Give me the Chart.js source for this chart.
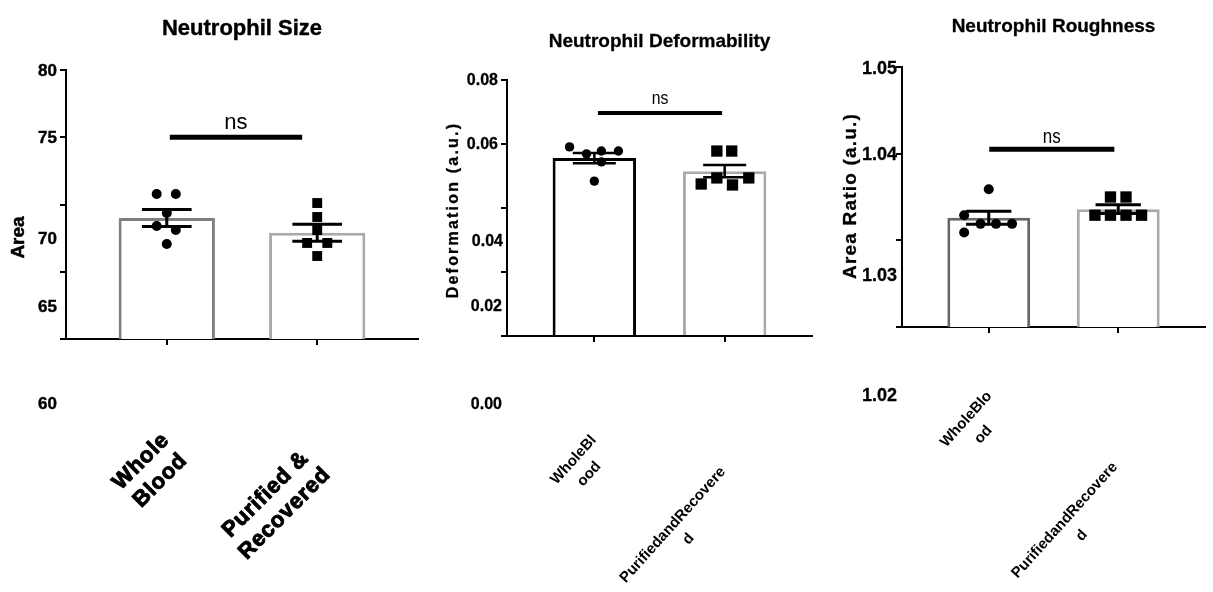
<!DOCTYPE html>
<html><head><meta charset="utf-8">
<script src="https://cdn.jsdelivr.net/npm/chart.js@4.4.0/dist/chart.umd.min.js"></script>
<style>
html,body{margin:0;padding:0;background:#fff;width:1213px;height:592px;overflow:hidden}
canvas{position:absolute;top:0}
</style></head><body>
<canvas id="c1" width="430" height="592" style="left:0px"></canvas>
<canvas id="c2" width="390" height="592" style="left:430px"></canvas>
<canvas id="c3" width="393" height="592" style="left:820px"></canvas>
<script>
// ---------- DATA ----------
// Panel 1: Neutrophil Size
const sizeTitle = 'Neutrophil Size';
const sizeYTitle = 'Area';
const sizeTickLabels = ['80', '75', '70', '65', '60'];
const sizeXLabels = [['Whole', 'Blood'], ['Purified &', 'Recovered']];
const sizeMeans = [69.0, 67.9];
const sizeSEM = [0.63, 0.63];
const sizeWholeBlood = [70.78, 70.78, 69.37, 68.40, 68.10, 67.06];
const sizeWholeBloodJitter = [-0.067, 0.06, 0, -0.067, 0.06, 0];
const sizePurified = [70.11, 69.07, 68.10, 67.14, 67.14, 66.17];
const sizePurifiedJitter = [0, 0, 0, -0.067, 0.067, 0];
const sizeSigValue = 75.0;
const sizeSigText = 'ns';

// Panel 2: Neutrophil Deformability
const defTitle = 'Neutrophil Deformability';
const defYTitle = 'Deformation (a.u.)';
const defTickLabels = ['0.08', '0.06', '0.04', '0.02', '0.00'];
const defXLabels = [['WholeBl', 'ood'], ['PurifiedandRecovere', 'd']];
const defMeans = [0.0556, 0.0515];
const defSEM = [0.0016, 0.0019];
const defWholeBlood = [0.0591, 0.0569, 0.0578, 0.0578, 0.0544, 0.0484];
const defWholeBloodJitter = [-0.19, -0.06, 0.054, 0.185, 0.054, 0];
const defPurified = [0.0578, 0.0578, 0.0475, 0.0494, 0.0472, 0.0494];
const defPurifiedJitter = [-0.06, 0.054, -0.18, -0.06, 0.06, 0.185];
const defSigValue = 0.0697;
const defSigText = 'ns';

// Panel 3: Neutrophil Roughness
const rouTitle = 'Neutrophil Roughness';
const rouYTitle = 'Area Ratio (a.u.)';
const rouTickLabels = ['1.05', '1.04', '1.03', '1.02'];
const rouXLabels = [['WholeBlo', 'od'], ['PurifiedandRecovere', 'd']];
const rouMeans = [1.0326, 1.0336];
const rouSEM = [0.00075, 0.0005];
const rouWholeBlood = [1.0359, 1.0329, 1.0319, 1.0319, 1.0319, 1.0309];
const rouWholeBloodJitter = [0, -0.19, -0.064, 0.056, 0.18, -0.19];
const rouPurified = [1.0350, 1.0350, 1.0329, 1.0329, 1.0329, 1.0329];
const rouPurifiedJitter = [-0.06, 0.06, -0.18, -0.06, 0.06, 0.18];
const rouSigValue = 1.0405;
const rouSigText = 'ns';

// ---------- HELPERS ----------
const SANS = "'Liberation Sans', Arial, Helvetica, sans-serif";

function txt(ctx, s, x, y, o) {
  ctx.save();
  ctx.translate(x, y);
  if (o.rot) ctx.rotate(o.rot);
  if (o.sx) ctx.scale(o.sx, 1);
  ctx.font = o.font;
  ctx.fillStyle = '#000';
  ctx.textAlign = o.align || 'center';
  ctx.textBaseline = o.base || 'middle';
  if ('letterSpacing' in ctx) ctx.letterSpacing = (o.ls || 0) + 'px';
  ctx.fillText(s, 0, 0);
  if (o.heavy) {
    ctx.strokeStyle = '#000';
    ctx.lineWidth = o.heavy;
    ctx.lineJoin = 'round';
    ctx.strokeText(s, 0, 0);
  }
  ctx.restore();
}

function pts(vals, jitter, idx) {
  return vals.map((v, i) => ({ x: idx + jitter[i], y: v }));
}

function makePanel(id, p) {
  const decor = {
    id: 'decor',
    afterDatasetDraw(chart, args) {
      if (args.index !== 3) return;
      const ctx = chart.ctx, xs = chart.scales.x, ys = chart.scales.y;
      ctx.save();
      ctx.strokeStyle = '#000';
      ctx.lineWidth = p.errW;
      ctx.lineCap = 'butt';
      p.means.forEach((m, i) => {
        const cx = xs.getPixelForValue(i);
        const hw = xs.getPixelForValue(i + p.capW / 2) - cx;
        const yHi = ys.getPixelForValue(m + p.sem[i]);
        const yLo = ys.getPixelForValue(m - p.sem[i]);
        ctx.beginPath();
        ctx.moveTo(cx - hw, yHi); ctx.lineTo(cx + hw, yHi);
        ctx.moveTo(cx - hw, yLo); ctx.lineTo(cx + hw, yLo);
        ctx.moveTo(cx, yHi); ctx.lineTo(cx, yLo);
        ctx.stroke();
      });
      ctx.restore();
    },
    afterDraw(chart) {
      const ctx = chart.ctx, a = chart.chartArea, xs = chart.scales.x, ys = chart.scales.y;
      // title
      txt(ctx, p.title, (a.left + a.right) / 2, a.top - p.titleGap,
        { font: p.titleFont, base: 'alphabetic', ls: p.titleLs || 0, sx: p.titleSx, heavy: p.titleHeavy });
      // y title
      txt(ctx, p.yTitle, a.left + p.yTitleDx, (a.top + a.bottom) / 2 + p.yTitleDy,
        { font: p.yTitleFont, rot: -Math.PI / 2, ls: p.yTitleLs || 0, heavy: p.yTitleHeavy });
      // y tick labels
      p.tickLabels.forEach((t, i) => {
        const v = p.yMax - i * p.yStep;
        const sh = p.tickShift[i];
        txt(ctx, t, a.left + sh[0], ys.getPixelForValue(v) + sh[1],
          { font: p.tickFont, align: 'right', sx: p.tickSx, heavy: p.tickHeavy });
      });
      // x labels
      p.xLabels.forEach((lines, i) => {
        const tx = xs.getPixelForValue(i);
        const off = p.xLabelOffsets[i];
        const cx = tx + off[0], cy = a.bottom + off[1];
        const n = lines.length;
        lines.forEach((line, j) => {
          const d = (j - (n - 1) / 2) * p.xLineH;
          const px = cx + d * Math.sin(p.xRot);
          const py = cy + d * Math.cos(p.xRot);
          txt(ctx, line, px, py, { font: p.xFont, rot: -p.xRot, heavy: p.xHeavy, ls: p.xLs || 0 });
        });
      });
      // significance text
      const x1 = xs.getPixelForValue(p.sigFrom), x2 = xs.getPixelForValue(p.sigTo);
      txt(ctx, p.sigText, (x1 + x2) / 2, ys.getPixelForValue(p.sigValue) - p.nsGap,
        { font: p.nsFont, base: 'alphabetic', sx: p.nsSx });
    }
  };

  const axisGrid = { drawOnChartArea: false, drawTicks: true, tickLength: 6, lineWidth: 2, color: '#000', offset: false };
  new Chart(document.getElementById(id), {
    type: 'bar',
    data: {
      datasets: [
        { type: 'scatter', data: pts(p.wb, p.wbJ, 0), pointStyle: 'circle', pointRadius: p.circleR,
          backgroundColor: '#000', borderWidth: 0 },
        { type: 'scatter', data: pts(p.pr, p.prJ, 1), pointStyle: 'rect', pointRadius: p.squareR,
          backgroundColor: '#000', borderWidth: 0 },
        { type: 'line', data: [{ x: p.sigFrom, y: p.sigValue }, { x: p.sigTo, y: p.sigValue }],
          borderColor: '#000', borderWidth: p.sigW, pointRadius: 0, fill: false, borderCapStyle: 'butt' },
        { type: 'bar', data: p.means.map((m, i) => ({ x: i, y: m })),
          backgroundColor: '#fff', borderColor: p.barColors, borderWidth: p.barW, borderSkipped: 'start',
          categoryPercentage: 0.8, barPercentage: 0.8 }
      ]
    },
    options: {
      responsive: false, animation: false, devicePixelRatio: 1, events: [],
      layout: { padding: p.padding },
      plugins: { legend: { display: false }, tooltip: { enabled: false }, title: { display: false } },
      scales: {
        x: {
          type: 'linear', min: -0.67, max: 1.67, offset: false,
          grid: axisGrid, border: { color: '#000', width: 2 },
          ticks: { display: false },
          afterBuildTicks: s => { s.ticks = [{ value: 0 }, { value: 1 }]; }
        },
        y: {
          type: 'linear', min: p.yMin, max: p.yMax, beginAtZero: false,
          grid: axisGrid, border: { color: '#000', width: 2 },
          ticks: { display: false, stepSize: p.yStep }
        }
      }
    },
    plugins: [decor]
  });
}

// ---------- PANELS ----------
makePanel('c1', {
  title: sizeTitle, titleFont: 'bold 22px ' + SANS, titleGap: 35, titleHeavy: 0.4,
  yTitle: sizeYTitle, yTitleFont: 'bold 19px ' + SANS, yTitleDx: -47, yTitleDy: 33, yTitleHeavy: 0.5,
  yMin: 60, yMax: 80, yStep: 5,
  tickLabels: sizeTickLabels, tickFont: 'bold 17px ' + SANS, tickHeavy: 0.4,
  tickShift: [[-9, 1], [-9, 1], [-9, 35], [-9, 36], [-9, 65]],
  xLabels: sizeXLabels, xFont: 'bold 22px ' + SANS, xLineH: 27, xRot: Math.PI / 4, xHeavy: 1.0, xLs: 0.8,
  xLabelOffsets: [[-16, 132], [-42, 165]],
  means: sizeMeans, sem: sizeSEM, capW: 0.33, errW: 3,
  wb: sizeWholeBlood, wbJ: sizeWholeBloodJitter, pr: sizePurified, prJ: sizePurifiedJitter,
  circleR: 5, squareR: 7,
  sigValue: sizeSigValue, sigFrom: 0.02, sigTo: 0.9, sigW: 5, sigText: sizeSigText,
  nsFont: '22px ' + SANS, nsGap: 8,
  barColors: ['#808080', '#aaaaaa'], barW: 3,
  padding: { left: 60, right: 12, top: 70, bottom: 247 }
});

makePanel('c2', {
  title: defTitle, titleFont: 'bold 19px ' + SANS, titleGap: 33, titleHeavy: 0.3,
  yTitle: defYTitle, yTitleFont: 'bold 16px ' + SANS, yTitleDx: -53, yTitleDy: 2, yTitleLs: 2.2, yTitleHeavy: 0.3,
  yMin: 0, yMax: 0.08, yStep: 0.02,
  tickLabels: defTickLabels, tickFont: 'bold 16px ' + SANS, tickHeavy: 0.3,
  tickShift: [[-9, 1], [-9, 1], [-4, 34], [-5, 35], [-5, 69]],
  xLabels: defXLabels, xFont: 'bold 15px ' + SANS, xLineH: 21, xRot: 48 * Math.PI / 180,
  xLabelOffsets: [[-13, 131], [-44, 196]],
  means: defMeans, sem: defSEM, capW: 0.33, errW: 2.5,
  wb: defWholeBlood, wbJ: defWholeBloodJitter, pr: defPurified, prJ: defPurifiedJitter,
  circleR: 4.7, squareR: 8,
  sigValue: defSigValue, sigFrom: 0.028, sigTo: 0.98, sigW: 4, sigText: defSigText,
  nsFont: '19px ' + SANS, nsGap: 9, nsSx: 0.83,
  barColors: ['#000000', '#aaaaaa'], barW: 3,
  padding: { left: 71, right: 8, top: 80, bottom: 250 }
});

makePanel('c3', {
  title: rouTitle, titleFont: 'bold 19px ' + SANS, titleGap: 35, titleHeavy: 0.3,
  yTitle: rouYTitle, yTitleFont: 'bold 19px ' + SANS, yTitleDx: -51, yTitleDy: -1, yTitleLs: 1.2, yTitleHeavy: 0.3,
  yMin: 1.02, yMax: 1.05, yStep: 0.01,
  tickLabels: rouTickLabels, tickFont: 'bold 18px ' + SANS, tickHeavy: 0.3,
  tickShift: [[-5, 2], [-5, 1], [-5, 36], [-5, 69]],
  xLabels: rouXLabels, xFont: 'bold 15px ' + SANS, xLineH: 23, xRot: 48 * Math.PI / 180,
  xLabelOffsets: [[-14, 100], [-45, 201]],
  means: rouMeans, sem: rouSEM, capW: 0.35, errW: 3,
  wb: rouWholeBlood, wbJ: rouWholeBloodJitter, pr: rouPurified, prJ: rouPurifiedJitter,
  circleR: 5, squareR: 8,
  sigValue: rouSigValue, sigFrom: 0.004, sigTo: 0.97, sigW: 5, sigText: rouSigText,
  nsFont: '20px ' + SANS, nsGap: 6, nsSx: 0.85,
  barColors: ['#666666', '#aaaaaa'], barW: 3,
  padding: { left: 76, right: 0, top: 67, bottom: 259 }
});
</script>
</body></html>
